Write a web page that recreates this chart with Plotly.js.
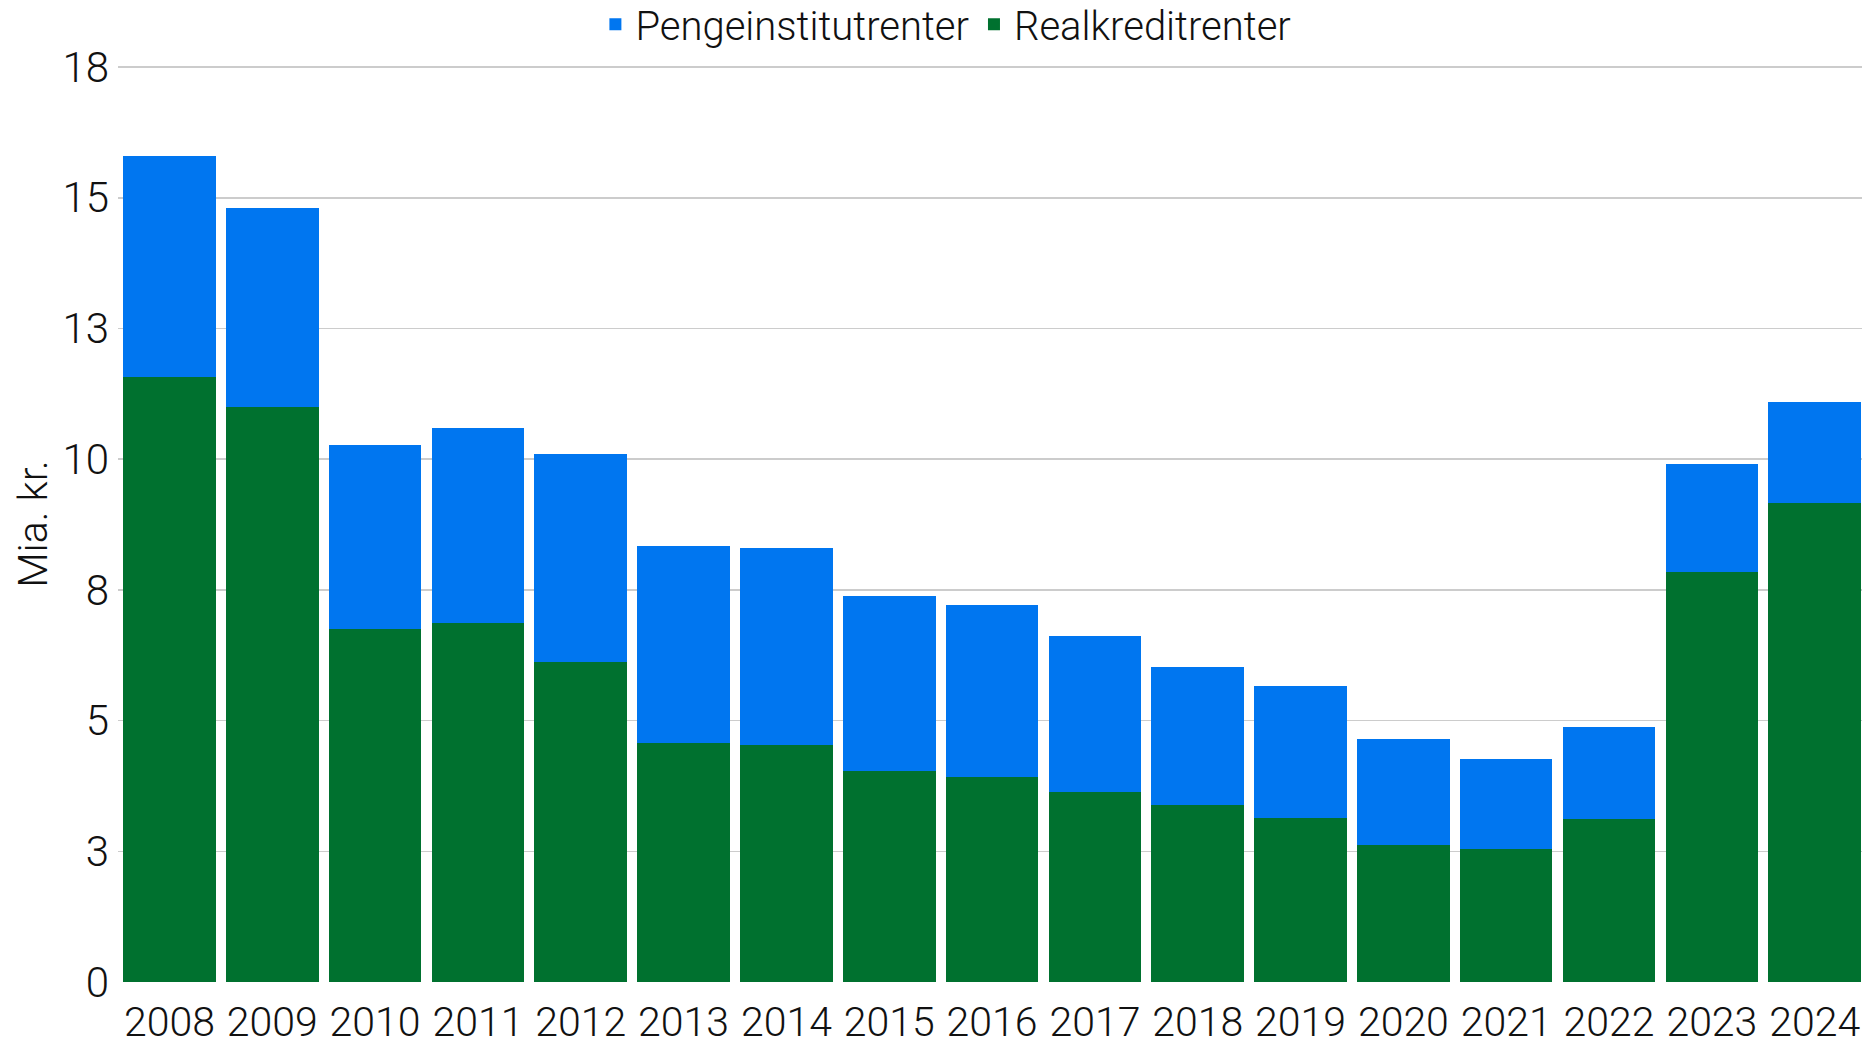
<!DOCTYPE html>
<html>
<head>
<meta charset="utf-8">
<script src="https://cdn.plot.ly/plotly-3.0.1.min.js"></script>
<style>html,body{margin:0;padding:0;background:#fff;}#chart{width:1862px;height:1050px;}</style>
</head>
<body>
<div id="chart"></div>
<script>
const years = ["2008","2009","2010","2011","2012","2013","2014","2015","2016","2017","2018","2019","2020","2021","2022","2023","2024"];
const realkreditrenter = [11.58, 11.00, 6.76, 6.87, 6.12, 4.58, 4.53, 4.04, 3.92, 3.63, 3.38, 3.13, 2.63, 2.54, 3.11, 7.84, 9.16];
const pengeinstitutrenter = [4.22, 3.80, 3.51, 3.72, 3.97, 3.76, 3.77, 3.35, 3.29, 2.99, 2.65, 2.54, 2.02, 1.72, 1.76, 2.07, 1.93];
const yTickVals = [0, 2.5, 5, 7.5, 10, 12.5, 15, 17.5];
const yTickText = ["0", "3", "5", "8", "10", "13", "15", "18"];

const FONT = "Roboto, 'Liberation Sans', sans-serif";

const traces = [
  {type: "bar", name: "Realkreditrenter", x: years, y: realkreditrenter,
   marker: {color: "#00712F", line: {width: 0}}, hoverinfo: "x+y+name"},
  {type: "bar", name: "Pengeinstitutrenter", x: years, y: pengeinstitutrenter,
   marker: {color: "#0076F0", line: {width: 0}}, hoverinfo: "x+y+name"}
];

const layout = {
  width: 1862, height: 1050,
  paper_bgcolor: "#ffffff", plot_bgcolor: "#ffffff",
  margin: {l: 118, r: 0, t: 66, b: 68},
  barmode: "stack",
  bargap: 0.1,
  font: {family: FONT, size: 42, color: "#111111", weight: 300},
  showlegend: true,
  legend: {
    orientation: "h", traceorder: "reversed",
    xref: "container", yref: "container",
    x: 0.508, xanchor: "center", y: 0.977, yanchor: "middle",
    font: {family: FONT, size: 40, color: "#111111", weight: 300},
    itemwidth: 30, bgcolor: "rgba(0,0,0,0)"
  },
  xaxis: {
    type: "category", range: [-0.5, 16.46],
    showgrid: false, zeroline: false, showline: false, ticks: "",
    tickfont: {family: FONT, size: 41, color: "#111111", weight: 300},
    ticklabelstandoff: 12
  },
  yaxis: {
    range: [0, 17.52], tickvals: yTickVals, ticktext: yTickText,
    showgrid: true, gridcolor: "#cccccc", gridwidth: 1.5,
    zeroline: false, showline: false, ticks: "",
    tickfont: {family: FONT, size: 42, color: "#111111", weight: 300},
    ticklabelstandoff: 8,
    title: {text: "Mia. kr.", font: {family: FONT, size: 41, color: "#111111", weight: 300}, standoff: 2}
  }
};

Plotly.newPlot("chart", traces, layout, {displayModeBar: false, staticPlot: true});
</script>
</body>
</html>
